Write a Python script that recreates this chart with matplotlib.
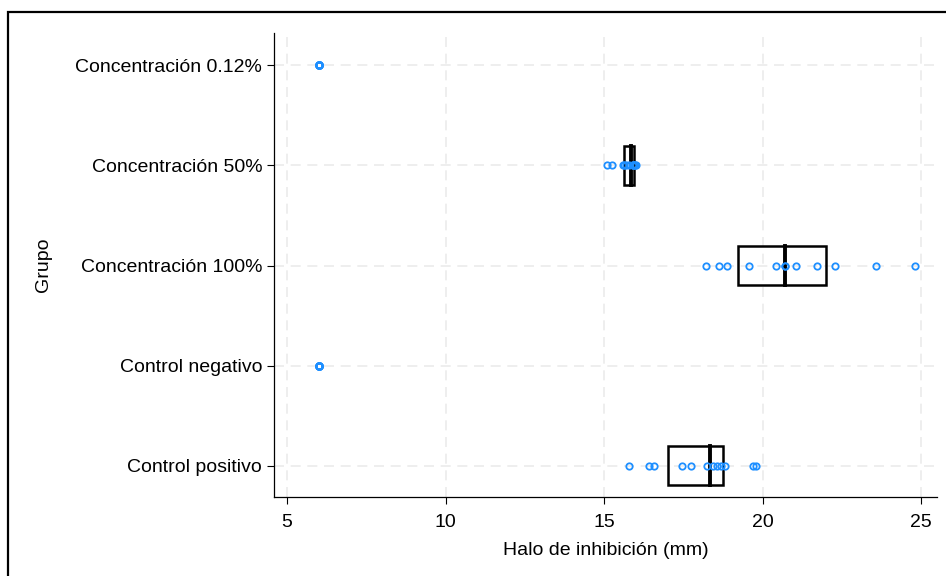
import numpy as np
import matplotlib.pyplot as plt
from matplotlib.patches import Rectangle

plt.rcParams['font.family'] = ['Liberation Sans', 'DejaVu Sans']

# groups from bottom to top
grupos = ['Control positivo', 'Control negativo', 'Concentración 100%',
          'Concentración 50%', 'Concentración 0.12%']

control_pos = [15.79, 16.43, 16.59, 17.47, 17.74, 18.24, 18.43, 18.56, 18.69, 18.82, 19.71, 19.79]
control_neg = [6.0] * 12
conc_100 = [18.22, 18.63, 18.87, 19.57, 20.42, 20.71, 20.71, 21.06, 21.73, 22.27, 23.57, 24.82]
conc_50 = [15.08, 15.26, 15.60, 15.64, 15.70, 15.80, 15.90, 15.90, 15.92, 15.94, 15.98, 16.02]
conc_012 = [6.0] * 12

valores = [control_pos, control_neg, conc_100, conc_50, conc_012]
xticks = [5, 10, 15, 20, 25]

fig = plt.figure(figsize=(9.46, 5.76), dpi=100)
W, H = 946, 576
ax = fig.add_axes([274 / W, 1 - 497 / H, (937 - 274) / W, (497 - 33) / H])

# outer frame (cut off at right and bottom)
fig.patches.append(Rectangle((8 / W, -0.1), 1.2, 1.1 - 12 / H, transform=fig.transFigure,
                             fill=False, edgecolor='black', linewidth=1.6, zorder=0))

for i, vals in enumerate(valores):
    y = i + 1
    vals = np.array(vals)
    q1, med, q3 = np.percentile(vals, [25, 50, 75], method='averaged_inverted_cdf')
    if q3 > q1:
        ax.add_patch(Rectangle((q1, y - 0.195), q3 - q1, 0.39, fill=False,
                               edgecolor='black', linewidth=1.8, zorder=3))
        ax.plot([med, med], [y - 0.195, y + 0.195], color='black', linewidth=2.8, zorder=3)
    ax.plot(vals, np.full(len(vals), y), 'o', markerfacecolor='none',
            markeredgecolor='#1E8FFF', markersize=4.6, markeredgewidth=1.3, zorder=4)

ax.set_xlim(4.59, 25.5)
ax.set_ylim(0.69, 5.32)
ax.set_xticks(xticks)
ax.set_yticks(range(1, len(grupos) + 1))
ax.set_yticklabels(grupos)
ax.tick_params(axis='both', labelsize=14, length=5, width=0.8, color='black')
ax.tick_params(axis='x', pad=7)

ax.grid(True, color='#EBEBEB', linestyle=(0, (6, 4)), linewidth=1.2)
ax.set_axisbelow(True)
for s in ['top', 'right']:
    ax.spines[s].set_visible(False)
for s in ['left', 'bottom']:
    ax.spines[s].set_linewidth(0.9)

ax.set_xlabel('Halo de inhibición (mm)', fontsize=14, labelpad=8)
ax.set_ylabel('Grupo', fontsize=14, labelpad=17)

fig.savefig('out.png', dpi=100)
